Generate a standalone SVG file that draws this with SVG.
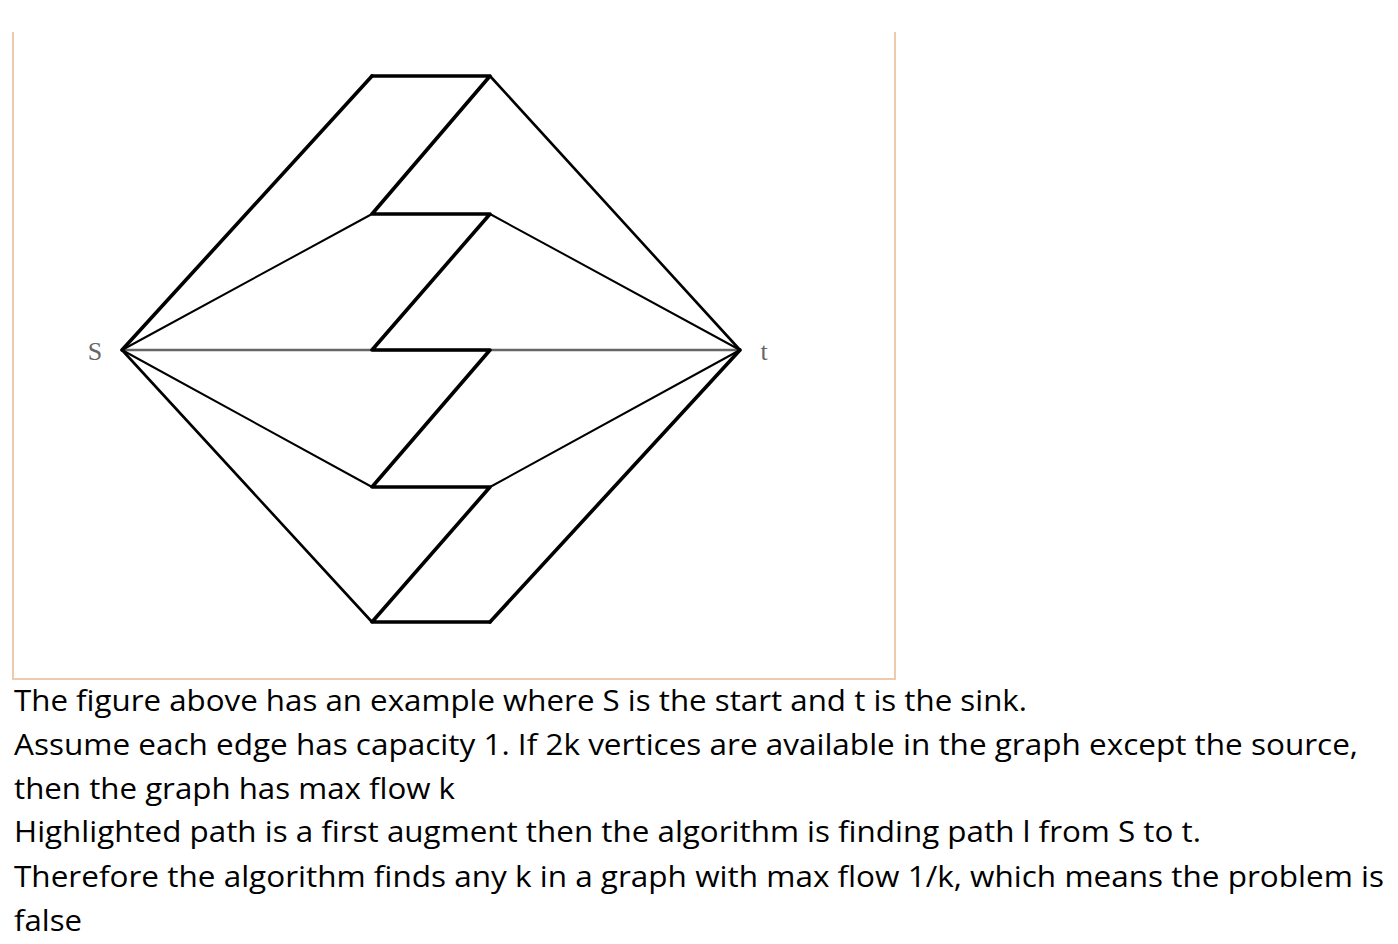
<svg xmlns="http://www.w3.org/2000/svg" width="1398" height="944" viewBox="0 0 1398 944">
<style>
.frame{fill:none;stroke:#efcbae;stroke-width:2}
.e{stroke:#000;fill:none;stroke-linecap:round;stroke-linejoin:round}
.thick{stroke-width:3.6}
.med{stroke-width:2.6}
.thin{stroke-width:2}
.hz{stroke:#666;stroke-width:2.4}
.lbl{font-family:"Liberation Serif",serif;font-size:26px;fill:#666}
.txt{font-family:"Open Sans","Noto Sans",sans-serif;font-size:30px;fill:#000}
</style>
<rect width="1398" height="944" fill="#fff"/>
<g id="frame"><path class="frame" d="M13,32 V679 H895 V32"/></g>
<g id="connectors">
<line class="e hz" x1="122" y1="350" x2="740" y2="350"/>
<line class="e thick" x1="122" y1="350" x2="372" y2="76"/>
<line class="e med" x1="490" y1="76" x2="740" y2="350"/>
<line class="e thin" x1="122" y1="350" x2="372" y2="214"/>
<line class="e thin" x1="490" y1="214" x2="740" y2="350"/>
<line class="e thin" x1="122" y1="350" x2="372" y2="487"/>
<line class="e thin" x1="490" y1="487" x2="740" y2="350"/>
<line class="e med" x1="122" y1="350" x2="372" y2="622"/>
<line class="e thick" x1="490" y1="622" x2="740" y2="350"/>
<polyline class="e thick" points="372,76 490,76 372,214 490,214 372,350 490,350 372,487 490,487 372,622 490,622"/>
</g>
<g id="node-s"><text class="lbl" x="95" y="360" text-anchor="middle">S</text></g>
<g id="node-t"><text class="lbl" x="764" y="360" text-anchor="middle">t</text></g>
<g id="caption">
<text class="txt" x="14" y="711" textLength="1013" lengthAdjust="spacingAndGlyphs">The figure above has an example where S is the start and t is the sink.</text>
<text class="txt" x="14" y="755" textLength="1344" lengthAdjust="spacingAndGlyphs">Assume each edge has capacity 1. If 2k vertices are available in the graph except the source,</text>
<text class="txt" x="14" y="799" textLength="441" lengthAdjust="spacingAndGlyphs">then the graph has max flow k</text>
<text class="txt" x="14" y="842" textLength="1187" lengthAdjust="spacingAndGlyphs">Highlighted path is a first augment then the algorithm is finding path l from S to t.</text>
<text class="txt" x="14" y="887" textLength="1370" lengthAdjust="spacingAndGlyphs">Therefore the algorithm finds any k in a graph with max flow 1/k, which means the problem is</text>
<text class="txt" x="14" y="931" textLength="68" lengthAdjust="spacingAndGlyphs">false</text>
</g>
</svg>
